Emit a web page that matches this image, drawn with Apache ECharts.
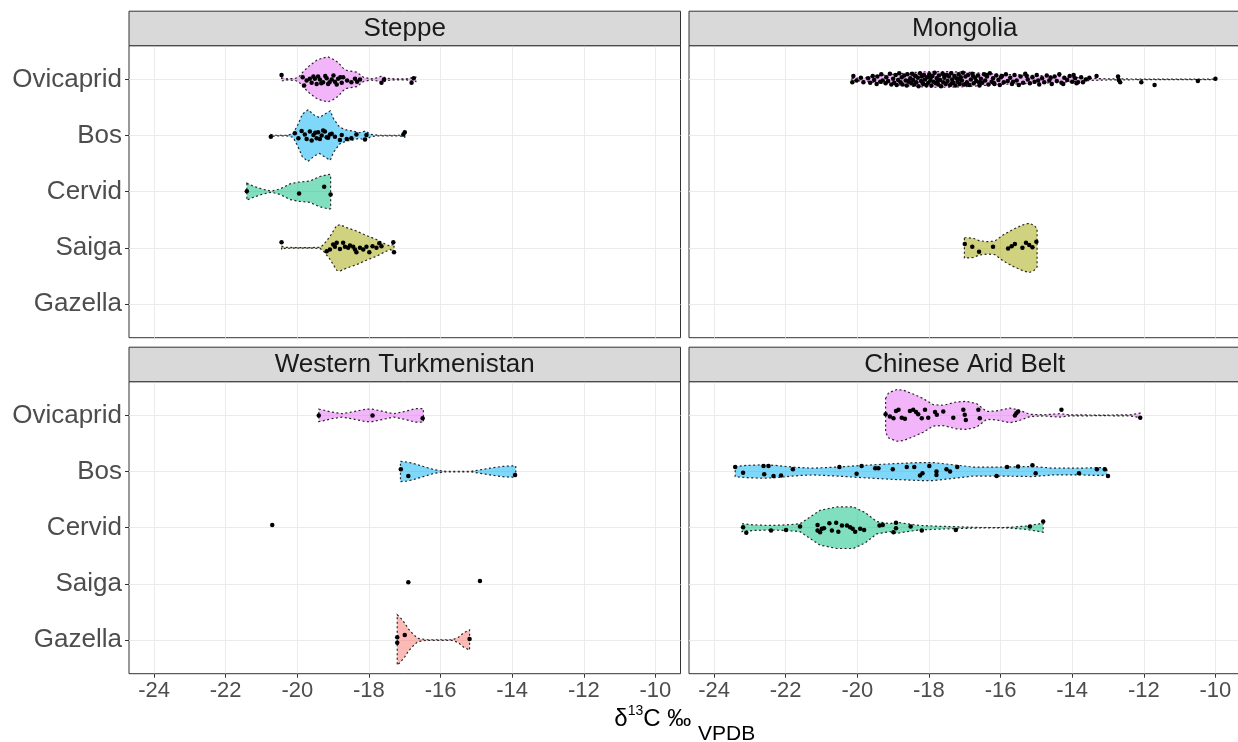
<!DOCTYPE html>
<html><head><meta charset="utf-8">
<script src="https://cdn.jsdelivr.net/npm/echarts@6/dist/echarts.min.js"></script>
<style>html,body{margin:0;padding:0;background:#fff}#c{width:1238px;height:742px}</style>
</head><body><div id="c"></div>
<script>
const species = ['Ovicaprid', 'Bos', 'Cervid', 'Saiga', 'Gazella'];
const regions = ['Steppe', 'Mongolia', 'Western Turkmenistan', 'Chinese Arid Belt'];
const xTicks = [-24, -22, -20, -18, -16, -14, -12, -10];
const speciesColors = ['#E76BF3', '#00B0F6', '#00BF7D', '#A3A500', '#F8766D'];

// violin profiles: [d13C, half-width in category units]; points: [d13C, jitter in category units]
const steppeOviViolin = [[-20.44,0.03],[-20.38,0.02],[-20.25,0.01],[-20.05,0.02],[-19.95,0.05],[-19.83,0.14],[-19.65,0.25],[-19.46,0.34],[-19.3,0.38],[-19.14,0.40],[-19.0,0.36],[-18.86,0.30],[-18.72,0.2],[-18.62,0.16],[-18.45,0.14],[-18.34,0.13],[-18.16,0.04],[-17.95,0.01],[-17.75,0.03],[-17.65,0.06],[-17.5,0.02],[-17.3,0.01],[-16.95,0.01],[-16.8,0.03],[-16.69,0.04]];
const steppeOviPts = [[-20.44,-0.08],[-19.85,-0.04],[-19.81,0.11],[-19.74,0.02],[-19.65,-0.01],[-19.6,0.06],[-19.55,-0.05],[-19.51,-0.01],[-19.46,0.08],[-19.42,-0.05],[-19.37,0],[-19.33,0.07],[-19.28,0.05],[-19.22,-0.06],[-19.18,-0.02],[-19.14,0.08],[-19.1,0.05],[-19.04,0],[-18.99,-0.07],[-18.95,0.04],[-18.9,0.09],[-18.86,-0.01],[-18.8,-0.04],[-18.76,0.06],[-18.72,-0.04],[-18.61,0.02],[-18.49,0.05],[-18.39,-0.01],[-18.33,0.04],[-18.25,0],[-17.65,0.06],[-17.58,0],[-16.81,0.06],[-16.75,-0.02]];
const steppeBosViolin = [[-20.74,0.02],[-20.6,0.005],[-20.3,0.005],[-20.12,0.03],[-19.98,0.2],[-19.86,0.38],[-19.7,0.46],[-19.52,0.36],[-19.38,0.32],[-19.24,0.38],[-19.08,0.44],[-18.99,0.30],[-18.82,0.15],[-18.64,0.10],[-18.45,0.08],[-18.27,0.05],[-18.1,0.08],[-17.95,0.02],[-17.72,0.005],[-17.16,0.005],[-17.0,0.03]];
const steppeBosPts = [[-20.74,0.02],[-20.07,-0.04],[-19.97,0.05],[-19.88,-0.08],[-19.79,-0.02],[-19.74,0.06],[-19.65,-0.07],[-19.6,0.09],[-19.55,-0.01],[-19.5,-0.05],[-19.46,0.05],[-19.42,-0.06],[-19.37,0.06],[-19.32,0],[-19.28,-0.09],[-19.23,-0.07],[-19.18,0.03],[-19.14,0.04],[-19.09,-0.02],[-19.04,-0.03],[-18.95,0.02],[-18.81,0.08],[-18.76,-0.01],[-18.62,0.06],[-18.49,0.05],[-18.35,-0.02],[-18.11,0.07],[-18.07,-0.01],[-17.04,-0.02],[-17.0,-0.06]];
const steppeCerViolin = [[-21.41,0.15],[-21.23,0.10],[-20.95,0.04],[-20.72,0.01],[-20.48,0.05],[-20.2,0.14],[-19.97,0.17],[-19.65,0.19],[-19.37,0.27],[-19.11,0.31],[-19.07,0.30]];
const steppeCerPts = [[-21.41,-0.01],[-19.95,0.03],[-19.25,-0.09],[-19.07,0.05]];
const steppeSaiViolin = [[-20.44,0.03],[-20.35,0.01],[-20.1,0.005],[-19.6,0.005],[-19.37,0.01],[-19.28,0.05],[-19.09,0.2],[-18.9,0.40],[-18.8,0.41],[-18.62,0.36],[-18.35,0.30],[-18.07,0.22],[-17.79,0.15],[-17.55,0.07],[-17.41,0.03],[-17.3,0.07]];
const steppeSaiPts = [[-20.44,-0.1],[-19.18,0.06],[-19.09,0.03],[-19.0,-0.06],[-18.95,-0.02],[-18.9,-0.09],[-18.81,0.02],[-18.72,-0.09],[-18.67,-0.02],[-18.58,0],[-18.53,-0.04],[-18.44,-0.02],[-18.39,0.03],[-18.35,0.08],[-18.25,0],[-18.16,0.03],[-18.07,-0.02],[-17.99,0.08],[-17.9,-0.03],[-17.79,0],[-17.71,-0.08],[-17.65,-0.03],[-17.32,-0.1],[-17.3,0.08]];

const mongOviViolin = [[-20.15,0.02],[-19.8,0.03],[-19.5,0.06],[-19.0,0.09],[-18.5,0.12],[-18.0,0.14],[-17.5,0.14],[-17.0,0.13],[-16.5,0.11],[-16.0,0.09],[-15.5,0.08],[-15.0,0.07],[-14.5,0.06],[-14.0,0.04],[-13.5,0.02],[-13.0,0.01],[-12.5,0.008],[-12.0,0.004],[-11.0,0.003],[-10.0,0.003]];
const mongOviPts = [[-20.14,0.05],[-20.11,-0.06],[-20.02,0.02],[-19.9,-0.03],[-19.83,0.05],[-19.7,-0.02],[-19.64,0.06],[-19.57,-0.06],[-19.53,0.01],[-19.46,0.08],[-19.44,-0.05],[-19.36,0.04],[-19.33,-0.09],[-19.29,0.02],[-19.21,0.07],[-19.19,-0.04],[-19.14,0.03],[-19.09,-0.1],[-19.05,0.09],[-19.0,-0.01],[-18.97,0.06],[-18.93,-0.08],[-18.9,0.1],[-18.86,0.01],[-18.83,-0.11],[-18.79,0.05],[-18.76,-0.04],[-18.74,0.09],[-18.69,-0.07],[-18.65,0.02],[-18.62,0.11],[-18.6,-0.09],[-18.58,0.03],[-18.56,0.04],[-18.52,-0.02],[-18.49,0.07],[-18.47,-0.1],[-18.44,0.01],[-18.41,0.09],[-18.4,-0.07],[-18.37,-0.06],[-18.35,0.05],[-18.31,-0.03],[-18.29,0.12],[-18.25,-0.11],[-18.22,0.03],[-18.2,-0.05],[-18.18,0.06],[-18.16,0.08],[-18.14,-0.08],[-18.11,0.0],[-18.07,0.1],[-18.05,-0.04],[-18.02,0.06],[-17.99,-0.09],[-17.96,0.02],[-17.95,-0.03],[-17.93,0.11],[-17.9,-0.06],[-17.87,0.04],[-17.84,-0.12],[-17.81,0.07],[-17.78,-0.02],[-17.76,0.04],[-17.74,0.09],[-17.72,-0.07],[-17.69,0.01],[-17.66,0.12],[-17.62,-0.1],[-17.6,0.05],[-17.58,-0.08],[-17.57,-0.03],[-17.53,0.08],[-17.5,-0.08],[-17.48,0.03],[-17.44,-0.05],[-17.41,0.1],[-17.38,-0.11],[-17.36,0.07],[-17.35,0.0],[-17.32,0.06],[-17.29,-0.06],[-17.26,0.11],[-17.23,-0.02],[-17.2,0.04],[-17.17,-0.09],[-17.15,-0.01],[-17.14,0.08],[-17.11,-0.04],[-17.08,0.02],[-17.05,-0.12],[-17.02,0.09],[-16.98,-0.05],[-16.97,0.08],[-16.94,0.05],[-16.91,-0.08],[-16.87,0.1],[-16.83,0.0],[-16.79,-0.1],[-16.77,-0.06],[-16.75,0.07],[-16.71,-0.03],[-16.68,0.03],[-16.63,-0.07],[-16.6,0.05],[-16.59,0.11],[-16.55,-0.01],[-16.51,0.06],[-16.46,-0.09],[-16.43,0.02],[-16.41,-0.08],[-16.38,-0.05],[-16.34,0.09],[-16.3,-0.11],[-16.25,0.04],[-16.21,-0.02],[-16.19,0.06],[-16.17,0.08],[-16.12,-0.07],[-16.06,0.01],[-16.02,0.1],[-15.99,-0.04],[-15.96,-0.06],[-15.91,0.05],[-15.85,-0.09],[-15.8,0.03],[-15.73,-0.03],[-15.68,0.08],[-15.65,0.04],[-15.61,-0.08],[-15.55,0.02],[-15.49,0.1],[-15.44,-0.05],[-15.37,0.06],[-15.31,-0.1],[-15.27,-0.06],[-15.24,0.0],[-15.18,0.07],[-15.11,-0.04],[-15.05,0.04],[-14.99,-0.08],[-14.95,0.02],[-14.92,0.09],[-14.84,-0.02],[-14.78,0.05],[-14.71,-0.07],[-14.64,0.02],[-14.6,-0.03],[-14.57,0.08],[-14.49,-0.05],[-14.43,0.03],[-14.36,-0.09],[-14.3,0.06],[-14.25,0.08],[-14.22,-0.03],[-14.14,0.01],[-14.07,-0.06],[-14.0,0.04],[-13.96,-0.08],[-13.92,-0.02],[-13.88,0.07],[-13.84,0.05],[-13.75,-0.04],[-13.7,0.05],[-13.62,0.0],[-13.52,-0.03],[-13.32,-0.06],[-12.72,-0.05],[-12.7,0.01],[-12.66,0.05],[-12.07,0.05],[-11.7,0.1],[-10.49,0.03],[-10.0,-0.01]];
const mongSaiViolin = [[-17.01,0.18],[-16.9,0.18],[-16.76,0.17],[-16.6,0.13],[-16.39,0.11],[-16.16,0.12],[-15.93,0.23],[-15.65,0.33],[-15.37,0.41],[-15.2,0.44],[-15.06,0.40],[-14.98,0.34]];
const mongSaiPts = [[-17.0,-0.07],[-16.79,-0.02],[-16.6,0.07],[-16.21,-0.02],[-15.79,0.01],[-15.69,-0.03],[-15.6,-0.07],[-15.39,0],[-15.29,-0.09],[-15.2,-0.05],[-15.11,-0.01],[-15.0,-0.11]];

const wtOviViolin = [[-19.40,0.11],[-19.3,0.10],[-19.05,0.06],[-18.75,0.03],[-18.4,0.07],[-18.1,0.11],[-17.9,0.11],[-17.6,0.07],[-17.31,0.03],[-17.0,0.07],[-16.7,0.12],[-16.48,0.12]];
const wtOviPts = [[-19.40,0],[-17.9,0],[-16.5,0.05]];
const wtBosViolin = [[-17.12,0.18],[-16.95,0.17],[-16.79,0.15],[-16.48,0.09],[-16.17,0.03],[-15.86,0.005],[-15.14,0.005],[-14.62,0.06],[-14.3,0.09],[-14.05,0.10],[-13.9,0.10]];
const wtBosPts = [[-17.11,-0.04],[-16.9,0.08],[-13.92,0.06]];
const wtCerPts = [[-20.70,-0.05]];
const wtSaiPts = [[-16.9,-0.03],[-14.9,-0.05]];
const wtGazViolin = [[-17.21,0.45],[-17.1,0.38],[-17.0,0.30],[-16.9,0.2],[-16.79,0.12],[-16.64,0.03],[-16.38,0.005],[-15.66,0.005],[-15.5,0.05],[-15.35,0.13],[-15.19,0.18]];
const wtGazPts = [[-17.21,-0.05],[-17.21,0.05],[-17.0,-0.09],[-15.19,-0.02]];

const cabOviViolin = [[-19.21,0.30],[-19.13,0.40],[-18.9,0.46],[-18.72,0.45],[-18.44,0.38],[-18.16,0.30],[-17.88,0.19],[-17.6,0.18],[-17.23,0.24],[-16.95,0.25],[-16.67,0.21],[-16.39,0.07],[-16.11,0.08],[-15.74,0.13],[-15.51,0.10],[-15.18,0.02],[-14.81,0.01],[-14.35,0.03],[-14.07,0.01],[-13.14,0.005],[-12.39,0.01],[-12.10,0.04]];
const cabOviPts = [[-19.21,-0.02],[-19.09,0.02],[-18.99,0.05],[-18.92,-0.08],[-18.85,-0.1],[-18.76,0.04],[-18.67,0.06],[-18.53,-0.08],[-18.44,-0.1],[-18.36,-0.06],[-18.3,-0.02],[-18.2,0.05],[-18.11,-0.1],[-18.02,0.04],[-17.83,-0.06],[-17.78,-0.01],[-17.6,-0.07],[-17.32,0.04],[-17.04,-0.1],[-17.0,-0.01],[-16.97,0.08],[-16.62,-0.1],[-16.58,0.05],[-15.6,0],[-15.56,-0.04],[-15.51,-0.07],[-14.3,-0.1],[-12.1,0.04]];
const cabBosViolin = [[-23.41,0.09],[-23.08,0.11],[-22.62,0.12],[-22.3,0.11],[-21.97,0.09],[-21.6,0.07],[-21.22,0.06],[-20.57,0.08],[-19.83,0.11],[-19.0,0.14],[-18.25,0.16],[-17.88,0.16],[-17.32,0.12],[-16.76,0.08],[-16.02,0.08],[-15.09,0.09],[-14.53,0.06],[-13.79,0.06],[-13.23,0.07],[-13.03,0.06]];
const cabBosPts = [[-23.41,-0.08],[-23.19,0.02],[-22.62,-0.1],[-22.48,-0.1],[-22.6,0.05],[-22.34,0.08],[-22.13,0.07],[-21.8,-0.04],[-20.5,-0.08],[-20.02,0.04],[-19.88,-0.1],[-19.5,-0.06],[-19.41,-0.06],[-19.01,-0.04],[-18.62,-0.08],[-18.41,-0.08],[-18.25,0.07],[-18.18,0.03],[-17.99,-0.1],[-17.79,0],[-17.79,0.06],[-17.51,-0.04],[-17.41,0],[-17.21,-0.08],[-16.11,0.08],[-15.82,-0.08],[-15.51,-0.09],[-15.11,-0.11],[-15.02,0.03],[-13.81,0.03],[-13.31,-0.04],[-13.09,-0.04],[-13.0,0.08]];
const cabCerViolin = [[-23.22,0.07],[-22.9,0.05],[-22.43,0.04],[-21.97,0.05],[-21.6,0.07],[-21.37,0.17],[-21.04,0.31],[-20.57,0.37],[-20.11,0.37],[-19.78,0.27],[-19.46,0.11],[-19.09,0.07],[-18.9,0.10],[-18.62,0.07],[-18.25,0.04],[-17.69,0.025],[-17.13,0.015],[-16.58,0.004],[-15.83,0.004],[-15.28,0.03],[-14.81,0.08]];
const cabCerPts = [[-23.19,-0.01],[-23.1,0.09],[-22.41,0.05],[-21.99,0.04],[-21.6,-0.02],[-21.11,-0.05],[-21.11,0.05],[-21.04,0.08],[-20.99,0.02],[-20.93,0.01],[-20.78,-0.08],[-20.71,0.05],[-20.59,-0.09],[-20.53,0.07],[-20.43,-0.04],[-20.29,-0.04],[-20.2,-0.01],[-20.13,0.02],[-20.06,0.07],[-19.92,0.02],[-19.81,0.04],[-19.38,-0.04],[-19.29,-0.05],[-18.99,0.08],[-18.92,0.01],[-18.92,-0.09],[-18.51,-0.02],[-18.2,0.05],[-17.25,0.04],[-15.18,-0.02],[-14.81,-0.11]];

const panels = [
  { violins: [[0, steppeOviViolin], [1, steppeBosViolin], [2, steppeCerViolin], [3, steppeSaiViolin]],
    points: [[0, steppeOviPts], [1, steppeBosPts], [2, steppeCerPts], [3, steppeSaiPts]] },
  { violins: [[0, mongOviViolin], [3, mongSaiViolin]],
    points: [[0, mongOviPts], [3, mongSaiPts]] },
  { violins: [[0, wtOviViolin], [1, wtBosViolin], [4, wtGazViolin]],
    points: [[0, wtOviPts], [1, wtBosPts], [2, wtCerPts], [3, wtSaiPts], [4, wtGazPts]] },
  { violins: [[0, cabOviViolin], [1, cabBosViolin], [2, cabCerViolin]],
    points: [[0, cabOviPts], [1, cabBosPts], [2, cabCerPts]] }
];

// ---- layout / style ----
const FONT = '"Liberation Sans", Arial, Helvetica, sans-serif';
const PW = 551.5, PH = 292;
const lefts = [129, 689, 129, 689];
const tops = [45.7, 45.7, 381.7, 381.7];
const stripH = 34.5;
const catPos = species.map((_, i) => i);

function rgba(hex, a) {
  const n = parseInt(hex.slice(1), 16);
  return 'rgba(' + (n >> 16 & 255) + ',' + (n >> 8 & 255) + ',' + (n & 255) + ',' + a + ')';
}

const grid = [], xAxis = [], yAxis = [], series = [], graphic = [];
panels.forEach((p, i) => {
  grid.push({ left: lefts[i], top: tops[i], width: PW, height: PH, show: true,
    borderColor: '#333333', borderWidth: 1, backgroundColor: '#fff', containLabel: false, outerBoundsMode: 'none' });
  xAxis.push({ type: 'value', gridIndex: i, min: -24.7, max: -9.3, position: 'bottom',
    axisLine: { show: false, onZero: false },
    axisTick: { show: i >= 2, customValues: xTicks, length: 4, lineStyle: { color: '#333333', width: 1 } },
    axisLabel: { show: i >= 2, customValues: xTicks, fontSize: 22, color: '#4D4D4D', margin: 6, fontFamily: FONT },
    splitLine: { show: true, customValues: xTicks, lineStyle: { color: '#EBEBEB', width: 1 } } });
  yAxis.push({ type: 'value', gridIndex: i, min: -0.6, max: 4.6, inverse: true, position: 'left',
    axisLine: { show: false, onZero: false },
    axisTick: { show: i % 2 === 0, customValues: catPos, length: 4, lineStyle: { color: '#333333', width: 1 } },
    axisLabel: { show: i % 2 === 0, customValues: catPos, fontSize: 26, color: '#4D4D4D', margin: 7, fontFamily: FONT,
      formatter: v => species[Math.round(v)] || '' },
    splitLine: { show: true, customValues: catPos, lineStyle: { color: '#EBEBEB', width: 1 } } });

  p.violins.forEach(([s, prof]) => {
    series.push({ type: 'custom', xAxisIndex: i, yAxisIndex: i, silent: true, z: 2,
      data: [[prof[0][0], s]],
      renderItem: (params, api) => {
        const top = prof.map(([x, hw]) => api.coord([x, s - hw]));
        const bot = prof.slice().reverse().map(([x, hw]) => api.coord([x, s + hw]));
        return { type: 'polygon', shape: { points: top.concat(bot) },
          style: { fill: rgba(speciesColors[s], 0.5), stroke: '#262626', lineWidth: 1.2, lineDash: [2, 2.5] } };
      } });
  });
  p.points.forEach(([s, pts]) => {
    series.push({ type: 'scatter', xAxisIndex: i, yAxisIndex: i, silent: true, z: 3,
      symbolSize: 4.5, itemStyle: { color: '#000', opacity: 1 },
      data: pts.map(([x, j]) => [x, s + j]) });
  });

  graphic.push({ type: 'rect', shape: { x: lefts[i], y: tops[i] - stripH, width: PW, height: stripH },
    style: { fill: '#D9D9D9', stroke: '#333333', lineWidth: 1 }, z: 10 });
  graphic.push({ type: 'text', x: lefts[i] + PW / 2, y: tops[i] - stripH / 2, z: 11,
    style: { text: regions[i], fontSize: 26, fontFamily: FONT, fill: '#1A1A1A', align: 'center', verticalAlign: 'middle' } });
});

graphic.push({ type: 'text', x: 129 + (PW * 2 + 8.5) / 2, y: 694.8, z: 11,
  style: { text: '{m|δ}{sup|13}{m|C ‰ }{sub|VPDB}', align: 'center', verticalAlign: 'top', fill: '#000',
    rich: {
      m: { fontSize: 24, lineHeight: 50, fontFamily: FONT, fill: '#000', verticalAlign: 'middle' },
      sup: { fontSize: 14, lineHeight: 14, fontFamily: FONT, fill: '#000', verticalAlign: 'top', padding: [9, 0, 0, 0] },
      sub: { fontSize: 21, lineHeight: 20, fontFamily: FONT, fill: '#000', verticalAlign: 'bottom' }
    } } });

const chart = echarts.init(document.getElementById('c'), null, { renderer: 'canvas' });
chart.setOption({ animation: false, backgroundColor: '#fff', grid, xAxis, yAxis, series, graphic });
</script></body></html>
